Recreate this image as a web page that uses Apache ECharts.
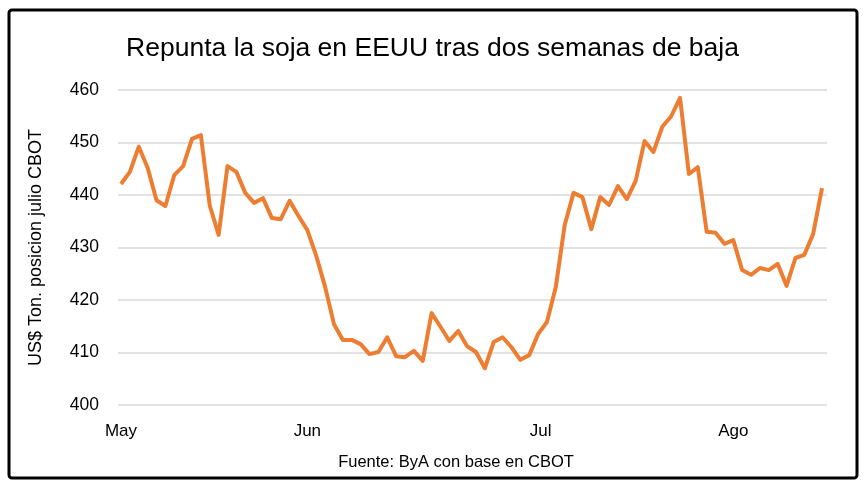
<!DOCTYPE html>
<html>
<head>
<meta charset="utf-8">
<title>Repunta la soja en EEUU</title>
<script src="https://cdn.jsdelivr.net/npm/echarts@6/dist/echarts.min.js"></script>
<style>
    html, body { margin: 0; padding: 0; background: #fff; }
    #chart { width: 865px; height: 487px; }
</style>
</head>
<body>
<div id="chart"></div>
<script>
// precio soja posicion julio CBOT (US$/t), ruedas diarias
var precios = [
    442.1, 444.4, 449.2, 445.2, 439.0, 437.9, 443.8, 445.5, 450.7, 451.4,
    438.0, 432.4, 445.5, 444.4, 440.4, 438.5, 439.4, 435.6, 435.4, 438.9,
    436.0, 433.3, 428.4, 422.5, 415.4, 412.4, 412.4, 411.6, 409.7, 410.1,
    412.9, 409.3, 409.1, 410.3, 408.4, 417.5, 414.9, 412.2, 414.1, 411.2,
    410.1, 407.0, 412.0, 412.9, 411.0, 408.6, 409.5, 413.5, 415.8, 422.5,
    434.3, 440.4, 439.6, 433.5, 439.6, 438.1, 441.7, 439.2, 442.7, 450.3,
    448.2, 453.0, 455.0, 458.5, 444.0, 445.3, 433.0, 432.8, 430.7, 431.4,
    425.7, 424.8, 426.1, 425.7, 426.9, 422.7, 428.0, 428.6, 432.6, 441.3
];
// etiquetas de meses y la rueda donde aparecen
var meses = ['May', 'Jun', 'Jul', 'Ago'];
var posMeses = [0, 21, 47.3, 69];
var yTicks = [400, 410, 420, 430, 440, 450, 460];

var fuente = 'Liberation Sans';
var myChart = echarts.init(document.getElementById('chart'));

var serie = precios.map(function (v, i) { return [i, v]; });

var option = {
    backgroundColor: '#fff',
    animation: false,
    title: {
        text: 'Repunta la soja en EEUU tras dos semanas de baja',
        left: 'center',
        top: 30,
        textStyle: { fontFamily: fuente, fontSize: 26.5, fontWeight: 'normal', color: '#000' }
    },
    graphic: [
        {
            type: 'rect',
            shape: { x: 9, y: 10, width: 848, height: 468, r: 3 },
            style: { fill: 'none', stroke: '#000', lineWidth: 3 },
            silent: true
        },
        {
            type: 'text',
            x: 456,
            y: 462,
            style: {
                text: 'Fuente: ByA con base en CBOT',
                font: '16.5px "Liberation Sans"',
                fill: '#000',
                align: 'center',
                verticalAlign: 'middle'
            }
        }
    ],
    grid: { left: 118, right: 38, top: 90, bottom: 82 },
    xAxis: {
        type: 'value',
        min: -0.34,
        max: 79.56,
        axisLine: { show: false },
        axisTick: { show: false },
        splitLine: { show: false },
        axisLabel: {
            customValues: posMeses,
            margin: 18,
            fontFamily: fuente,
            fontSize: 17,
            color: '#000',
            formatter: function (val) {
                var i = posMeses.indexOf(val);
                return i >= 0 ? meses[i] : '';
            }
        }
    },
    yAxis: {
        type: 'value',
        min: yTicks[0],
        max: yTicks[yTicks.length - 1],
        interval: 10,
        name: 'US$ Ton. posicion julio CBOT',
        nameLocation: 'middle',
        nameGap: 73,
        nameTextStyle: { fontFamily: fuente, fontSize: 18, color: '#000' },
        axisLine: { show: false },
        axisTick: { show: false },
        axisLabel: { margin: 19, fontFamily: fuente, fontSize: 17.5, color: '#000' },
        splitLine: { lineStyle: { color: '#d9d9d9', width: 1.5 } }
    },
    series: [{
        type: 'line',
        data: serie,
        showSymbol: false,
        lineStyle: { color: '#ED7D31', width: 4, join: 'round' },
        itemStyle: { color: '#ED7D31' }
    }]
};

myChart.setOption(option);
</script>
</body>
</html>
